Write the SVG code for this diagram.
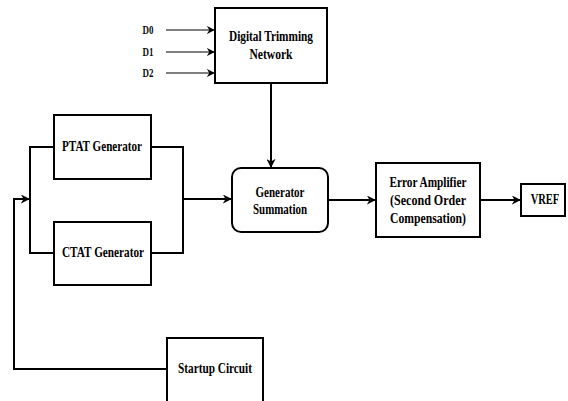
<svg xmlns="http://www.w3.org/2000/svg" width="568" height="401" viewBox="0 0 568 401">
  <style>
    .box { fill: #ffffff; stroke: #000000; stroke-width: 2; }
    .wire { fill: none; stroke: #000000; stroke-width: 2; }
    .thin { fill: none; stroke: #000000; stroke-width: 1.2; }
    .lbl { font-family: 'Liberation Serif', 'DejaVu Serif', serif; font-size: 14px; font-weight: bold; fill: #000000; text-anchor: middle; }
    .pin { font-family: 'Liberation Serif', 'DejaVu Serif', serif; font-size: 13px; font-weight: bold; fill: #111111; text-anchor: middle; }
  </style>
  <defs>
    <marker id="arrow" viewBox="0 0 10 10" refX="9" refY="5" markerWidth="4.5" markerHeight="4.5" orient="auto" markerUnits="strokeWidth">
      <path d="M0,0 L10,5 L0,10 L3,5 Z" fill="#000000"/>
    </marker>
    <marker id="arrowThin" viewBox="0 0 10 10" refX="9" refY="5" markerWidth="6.5" markerHeight="6.5" orient="auto" markerUnits="strokeWidth">
      <path d="M0,0 L10,5 L0,10 L3,5 Z" fill="#000000"/>
    </marker>
  </defs>
  <rect width="568" height="401" fill="#ffffff"/>

  <!-- connectors -->
  <g id="connectors">
    <path class="thin" d="M166,30 L214,30" marker-end="url(#arrowThin)"/>
    <path class="thin" d="M166,52 L214,52" marker-end="url(#arrowThin)"/>
    <path class="thin" d="M166,73 L214,73" marker-end="url(#arrowThin)"/>
    <path class="wire" d="M271,83 L271,167" marker-end="url(#arrow)"/>
    <path class="wire" d="M54,147 L30,147 L30,253 L54,253"/>
    <path class="wire" d="M151,147 L183,147 L183,253 L151,253"/>
    <path class="wire" d="M183,199 L231,199" marker-end="url(#arrow)"/>
    <path class="wire" d="M167,369 L14,369 L14,199 L29,199" marker-end="url(#arrow)"/>
    <path class="wire" d="M328,200 L375,200" marker-end="url(#arrow)"/>
    <path class="wire" d="M480,200 L520,200" marker-end="url(#arrow)"/>
  </g>

  <g id="inputs">
    <text class="pin" x="148" y="34" textLength="11" lengthAdjust="spacingAndGlyphs">D0</text>
    <text class="pin" x="148" y="56" textLength="11" lengthAdjust="spacingAndGlyphs">D1</text>
    <text class="pin" x="148" y="77" textLength="11" lengthAdjust="spacingAndGlyphs">D2</text>
  </g>

  <g id="digital-trimming">
    <rect class="box" x="215" y="8" width="112" height="75"/>
    <text class="lbl" x="271" y="41" textLength="84" lengthAdjust="spacingAndGlyphs">Digital Trimming</text>
    <text class="lbl" x="271" y="59" textLength="43" lengthAdjust="spacingAndGlyphs">Network</text>
  </g>

  <g id="ptat">
    <rect class="box" x="54" y="115" width="97" height="64"/>
    <text class="lbl" x="102" y="151" textLength="80" lengthAdjust="spacingAndGlyphs">PTAT Generator</text>
  </g>

  <g id="ctat">
    <rect class="box" x="54" y="222" width="97" height="63"/>
    <text class="lbl" x="103" y="257" textLength="82" lengthAdjust="spacingAndGlyphs">CTAT Generator</text>
  </g>

  <g id="summation">
    <rect class="box" x="232" y="168" width="96" height="64" rx="9" ry="9"/>
    <text class="lbl" x="280" y="197" textLength="49" lengthAdjust="spacingAndGlyphs">Generator</text>
    <text class="lbl" x="280" y="214" textLength="54" lengthAdjust="spacingAndGlyphs">Summation</text>
  </g>

  <g id="error-amplifier">
    <rect class="box" x="376" y="163" width="104" height="74"/>
    <text class="lbl" x="428" y="187" textLength="77" lengthAdjust="spacingAndGlyphs">Error Amplifier</text>
    <text class="lbl" x="428" y="205" textLength="76" lengthAdjust="spacingAndGlyphs">(Second Order</text>
    <text class="lbl" x="428" y="223" textLength="76" lengthAdjust="spacingAndGlyphs">Compensation)</text>
  </g>

  <g id="vref">
    <rect class="box" x="521" y="184" width="44" height="32"/>
    <text class="lbl" x="0" y="0" transform="translate(545,204) scale(0.75,1)">VREF</text>
  </g>

  <g id="startup">
    <rect class="box" x="167" y="338" width="96" height="66"/>
    <text class="lbl" x="215" y="373" textLength="74" lengthAdjust="spacingAndGlyphs">Startup Circuit</text>
  </g>
</svg>
